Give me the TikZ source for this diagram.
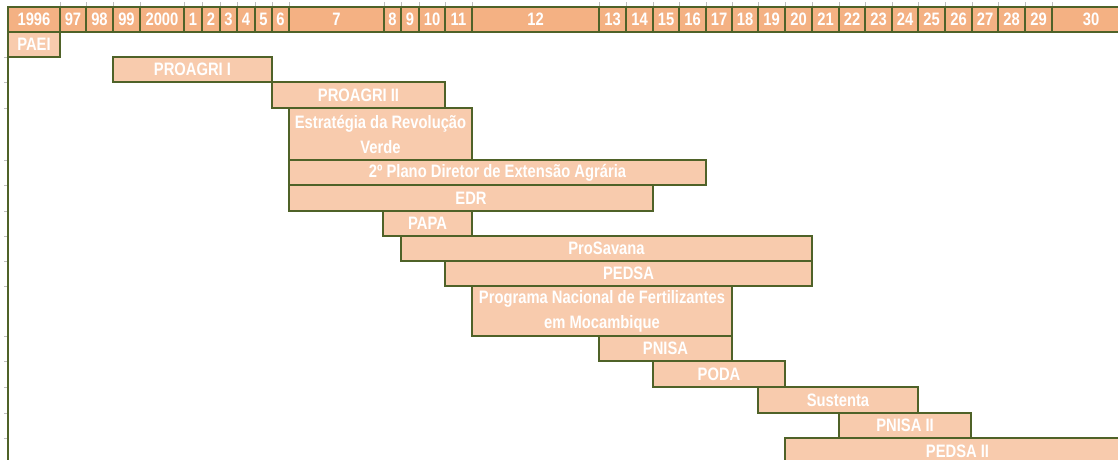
\documentclass[tikz,border=0pt]{standalone}
\usepackage{fontspec}
\usepackage{tikz}
\usetikzlibrary{calc}
\newfontfamily\schmalfont[FakeStretch=0.82]{Liberation Sans}
\definecolor{rahmen}{HTML}{4F6228}
\definecolor{kopf}{HTML}{F4B183}
\definecolor{balken}{HTML}{F8CBAD}
\definecolor{strich}{HTML}{BFBFBF}

\begin{document}
\begin{tikzpicture}[x=1pt, y=-1pt,
    jahr/.style={draw=rahmen, line width=1.6pt, fill=kopf},
    prog/.style={draw=rahmen, line width=1.6pt, fill=balken},
    txt/.style={text=white, align=center,
      font=\schmalfont\bfseries\fontsize{18}{25}\selectfont}]
  \useasboundingbox (0,0) rectangle (1118,459);
  \clip (0,0) rectangle (1118,459);

  % Kopfzeile mit den Jahren
  \foreach \x in {60,86,113,140,184,202,220,237,255,272,289,384,401,419,445,472,
                  599,626,653,679,706,732,758,785,812,839,865,892,918,945,972,998,1025,1052}
    \draw[strich, line width=0.8pt] (\x,2) -- (\x,7);
  \foreach \l/\r/\t in {8/60/1996, 60/86/97, 86/113/98, 113/140/99, 140/184/2000,
      184/202/1, 202/220/2, 220/237/3, 237/255/4, 255/272/5, 272/289/6, 289/384/7,
      384/401/8, 401/419/9, 419/445/10, 445/472/11, 472/599/12, 599/626/13,
      626/653/14, 653/679/15, 679/706/16, 706/732/17, 732/758/18, 758/785/19,
      785/812/20, 812/839/21, 839/865/22, 865/892/23, 892/918/24, 918/945/25,
      945/972/26, 972/998/27, 998/1025/28, 1025/1052/29, 1052/1130/30}
    \draw[jahr] (\l,7) rectangle (\r,32) node[midway, txt] (j\t) {\t};

  % Achse links
  \foreach \y in {57,82,108,160,185,211,236,261,286,336,361,387,413,438}
    \draw[strich, line width=0.8pt] (4,\y) -- (8,\y);
  \draw[rahmen, line width=1.6pt] (8,32) -- (8,470);

  % Programme
  \draw[prog] (8,32) rectangle (60,57) node[midway, txt] (paei) {PAEI};
  \draw[prog] (113,57) rectangle (272,82) node[midway, txt] (proagri1) {PROAGRI I};
  \draw[prog] (272,82) rectangle (445,108) node[midway, txt] (proagri2) {PROAGRI II};
  \draw[prog] (289,108) rectangle (472,160) node[midway, txt] (erv)
    {Estratégia da Revolução\\Verde};
  \draw[prog] (289,160) rectangle (706,185) node[midway, txt] (pdea)
    {2º Plano Diretor de Extensão Agrária};
  \draw[prog] (289,185) rectangle (653,211) node[midway, txt] (edr) {EDR};
  \draw[prog] (383,211) rectangle (472,236) node[midway, txt] (papa) {PAPA};
  \draw[prog] (401,236) rectangle (812,261) node[midway, txt] (prosavana) {ProSavana};
  \draw[prog] (445,261) rectangle (812,286) node[midway, txt] (pedsa) {PEDSA};
  \draw[prog] (472,286) rectangle (732,336) node[midway, txt] (pnfm)
    {Programa Nacional de Fertilizantes\\em Mocambique};
  \draw[prog] (599,336) rectangle (732,361) node[midway, txt] (pnisa) {PNISA};
  \draw[prog] (653,361) rectangle (785,387) node[midway, txt] (poda) {PODA};
  \draw[prog] (758,387) rectangle (918,413) node[midway, txt] (sustenta) {Sustenta};
  \draw[prog] (839,413) rectangle (971,438) node[midway, txt] (pnisa2) {PNISA II};
  \draw[prog] (785,438) rectangle (1130,464) node[midway, txt] (pedsa2) {PEDSA II};
\end{tikzpicture}
\end{document}
